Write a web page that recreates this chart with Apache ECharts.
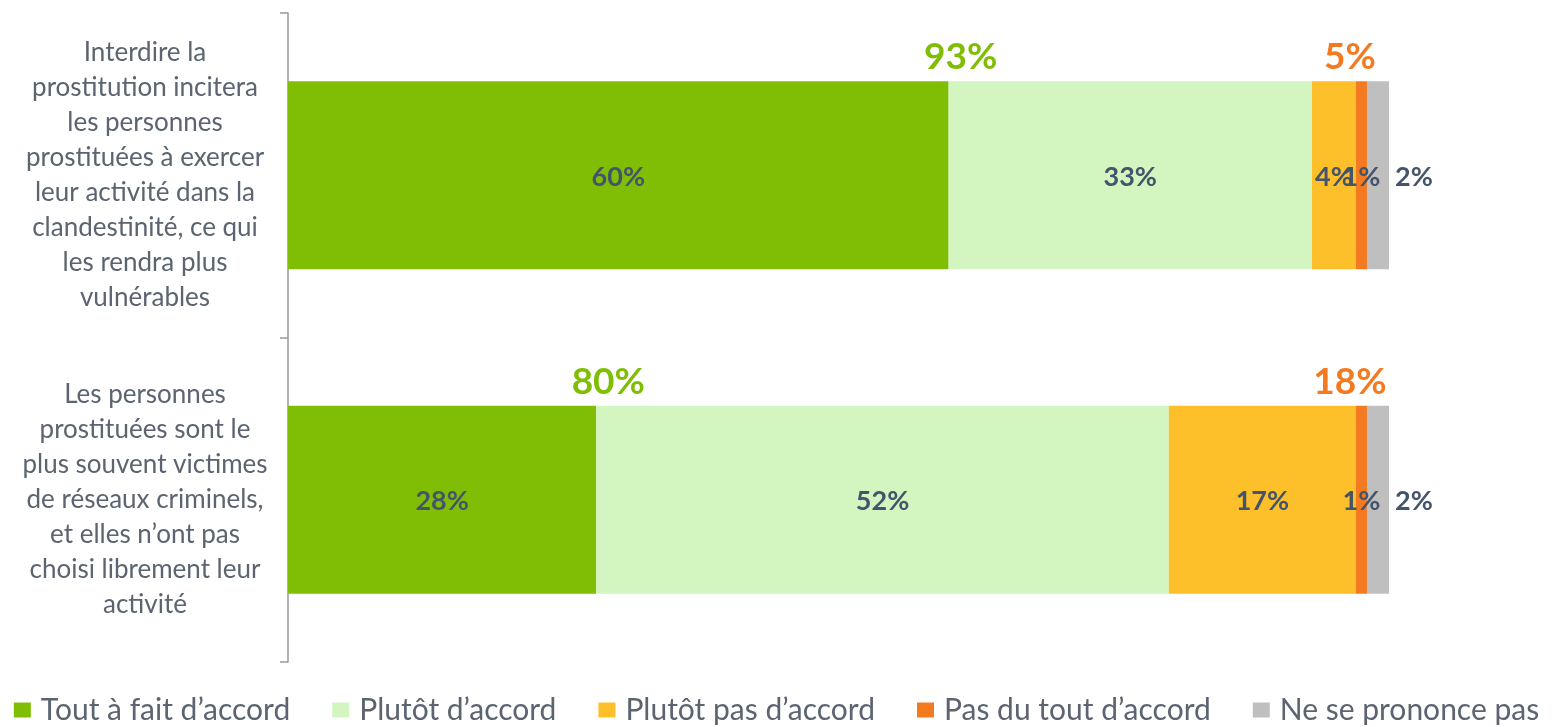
<!DOCTYPE html>
<html>
<head>
<meta charset="utf-8">
<script src="https://cdn.jsdelivr.net/npm/echarts@6/dist/echarts.min.js"></script>
<style>
  html, body { margin: 0; padding: 0; background: #fff; }
  #chart { width: 1553px; height: 727px; }
</style>
</head>
<body>
<div id="chart"></div>
<script>
// categories (line breaks as in the source)
const categories = [
  'Interdire la\nprostitution incitera\nles personnes\nprostituées à exercer\nleur activité dans la\nclandestinité, ce qui\nles rendra plus\nvulnérables',
  'Les personnes\nprostituées sont le\nplus souvent victimes\nde réseaux criminels,\net elles n’ont pas\nchoisi librement leur\nactivité'
]
const toutAFait = [60, 28]
const plutotAccord = [33, 52]
const plutotPas = [4, 17]
const pasDuTout = [1, 1]
const nspp = [2, 2]
const totalAccord = [93, 80]
const totalPasAccord = [5, 18]

const seriesNames = ['Tout à fait d’accord', 'Plutôt d’accord', 'Plutôt pas d’accord', 'Pas du tout d’accord', 'Ne se prononce pas']
const colors = ['#80be06', '#d3f5c0', '#fdbf2a', '#f47a22', '#bfbfbf']
const valueLists = [toutAFait, plutotAccord, plutotPas, pasDuTout, nspp]

const font = 'Lato, "Open Sans", sans-serif'

const chart = echarts.init(document.getElementById('chart'))

const barSeries = valueLists.map(function(vals, k) {
  return {
    name: seriesNames[k],
    type: 'bar',
    stack: 'all',
    barWidth: 188,
    data: vals,
    itemStyle: { color: colors[k] },
    label: {
      show: true,
      position: k === 4 ? 'right' : 'inside',
      distance: 6,
      offset: [0, 2],
      formatter: '{c}%',
      color: '#44546a',
      fontFamily: font,
      fontWeight: 'bold',
      fontSize: 27
    },
    emphasis: { disabled: true }
  }
})

// totals shown above the bars
const accordPts = totalAccord.map(function(t, i) { return { value: [toutAFait[i], i], total: t } })
const pasAccordPts = totalPasAccord.map(function(t, i) {
  return { value: [toutAFait[i] + plutotAccord[i] + plutotPas[i], i], total: t }
})

function totalSeries(pts, color, dx) {
  return {
    type: 'scatter',
    symbolSize: 0,
    z: 10,
    data: pts,
    silent: true,
    itemStyle: { opacity: 1 },
    label: {
      show: true,
      position: 'inside',
      offset: [dx, -118],
      formatter: function(p) { return p.data.total + '%' },
      color: color,
      opacity: 1,
      fontFamily: font,
      fontWeight: 'bold',
      fontSize: 37
    }
  }
}

chart.setOption({
  animation: false,
  grid: { left: 288, right: 164, top: 13, bottom: 65 },
  legend: {
    data: seriesNames,
    bottom: -3,
    left: 'center',
    icon: 'rect',
    itemWidth: 17,
    itemHeight: 15,
    itemGap: 42,
    textStyle: { color: '#5b6470', fontFamily: font, fontSize: 30, padding: [0, 0, 0, 5] }
  },
  xAxis: {
    type: 'value',
    min: 0,
    max: 100,
    show: false
  },
  yAxis: {
    type: 'category',
    inverse: true,
    data: categories,
    axisLine: { show: true, lineStyle: { color: '#9a9a9a', width: 1.5 } },
    axisTick: { show: true, length: 8, lineStyle: { color: '#9a9a9a', width: 1.5 } },
    axisLabel: {
      align: 'center',
      margin: 143,
      color: '#5b6470',
      fontFamily: font,
      fontSize: 26,
      lineHeight: 35,
      padding: [6, 0, 0, 0]
    }
  },
  series: barSeries.concat([
    totalSeries(accordPts, '#80be06', 12),
    totalSeries(pasAccordPts, '#f47a22', -6)
  ])
})
</script>
</body>
</html>
